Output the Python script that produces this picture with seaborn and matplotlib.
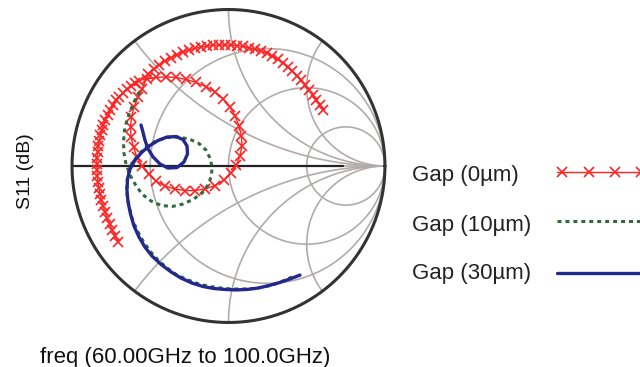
import numpy as np
import pandas as pd
import matplotlib
matplotlib.use("Agg")
import matplotlib.pyplot as plt
from matplotlib.lines import Line2D
import seaborn as sns

# ---- text ----
series_labels = ["Gap (0µm)", "Gap (10µm)", "Gap (30µm)"]
x_label = "freq (60.00GHz to 100.0GHz)"
y_label = "S11 (dB)"

# ---- Smith chart grid values ----
r_circles = [1/3, 1.0, 3.0]
x_arcs = [0.5, 1.0, 2.0, -0.5, -1.0, -2.0]

red_re = [-0.704, -0.725, -0.744, -0.760, -0.776, -0.789, -0.802, -0.812, -0.821, -0.828,
          -0.834, -0.838, -0.840, -0.842, -0.840, -0.837, -0.832, -0.826, -0.818, -0.808,
          -0.799, -0.786, -0.773, -0.757, -0.738, -0.719, -0.697, -0.674, -0.649, -0.623,
          -0.597, -0.572,
          -0.521, -0.463, -0.399, -0.335, -0.272, -0.208, -0.144, -0.086, -0.035, 0.010,
          0.042, 0.067, 0.083, 0.086, 0.073, 0.051, 0.016, -0.029, -0.086, -0.150,
          -0.214, -0.278, -0.342, -0.406, -0.463, -0.511, -0.553, -0.585, -0.607, -0.623,
          -0.626, -0.620, -0.604, -0.578, -0.550,
          -0.514, -0.479, -0.444, -0.406, -0.367, -0.329, -0.291, -0.252, -0.214, -0.176,
          -0.137, -0.099, -0.061, -0.022, 0.016, 0.054, 0.093, 0.131, 0.169, 0.208,
          0.246, 0.281, 0.316, 0.348, 0.380, 0.409, 0.438, 0.463, 0.489, 0.514,
          0.540, 0.562, 0.585, 0.607]
red_im = [-0.484, -0.447, -0.409, -0.371, -0.332, -0.294, -0.256, -0.217, -0.179, -0.141,
          -0.102, -0.064, -0.026, 0.013, 0.051, 0.089, 0.125, 0.160, 0.195, 0.230,
          0.262, 0.294, 0.326, 0.358, 0.390, 0.419, 0.444, 0.466, 0.489, 0.511,
          0.530, 0.546,
          0.556, 0.566, 0.569, 0.566, 0.553, 0.534, 0.508, 0.473, 0.428, 0.377,
          0.320, 0.256, 0.192, 0.128, 0.064, 0.006, -0.045, -0.089, -0.125, -0.147,
          -0.157, -0.157, -0.147, -0.128, -0.096, -0.051, 0.000, 0.058, 0.121, 0.185,
          0.249, 0.313, 0.377, 0.438, 0.492,
          0.588, 0.617, 0.645, 0.671, 0.693, 0.712, 0.728, 0.741, 0.752, 0.760,
          0.767, 0.771, 0.773, 0.773, 0.772, 0.769, 0.764, 0.756, 0.746, 0.735,
          0.720, 0.703, 0.681, 0.658, 0.633, 0.607, 0.578, 0.550, 0.518, 0.486,
          0.454, 0.422, 0.390, 0.358]

green_re = [0.406, 0.348, 0.291, 0.227, 0.163, 0.093, 0.022, -0.048, -0.118, -0.189,
            -0.259, -0.329, -0.393, -0.450, -0.502, -0.546, -0.585, -0.617, -0.636, -0.649,
            -0.649, -0.639, -0.617, -0.578, -0.527, -0.463, -0.393, -0.323, -0.252, -0.189,
            -0.144, -0.118, -0.105, -0.109, -0.131, -0.169, -0.227, -0.291, -0.361, -0.431,
            -0.495, -0.553, -0.594, -0.629, -0.655, -0.668, -0.671, -0.665, -0.649, -0.623,
            -0.591, -0.553]
green_im = [-0.709, -0.735, -0.757, -0.773, -0.783, -0.786, -0.786, -0.780, -0.770, -0.754,
            -0.728, -0.697, -0.652, -0.601, -0.543, -0.479, -0.409, -0.332, -0.256, -0.179,
            -0.102, -0.038, 0.019, 0.070, 0.121, 0.160, 0.182, 0.185, 0.173, 0.144,
            0.102, 0.051, -0.006, -0.064, -0.121, -0.173, -0.214, -0.243, -0.259, -0.252,
            -0.224, -0.179, -0.121, -0.058, 0.013, 0.083, 0.153, 0.224, 0.294, 0.364,
            0.435, 0.498]

blue_re = [0.457, 0.393, 0.329, 0.259, 0.189, 0.118, 0.048, -0.022, -0.093, -0.163,
           -0.233, -0.304, -0.367, -0.431, -0.489, -0.534, -0.572, -0.604, -0.626, -0.642,
           -0.649, -0.645, -0.629, -0.597, -0.553, -0.502, -0.450, -0.393, -0.335, -0.291,
           -0.265, -0.262, -0.284, -0.329, -0.387, -0.438, -0.482, -0.514, -0.534, -0.550,
           -0.559]
blue_im = [-0.697, -0.722, -0.744, -0.764, -0.780, -0.789, -0.792, -0.789, -0.783, -0.770,
           -0.748, -0.716, -0.677, -0.629, -0.575, -0.518, -0.454, -0.383, -0.307, -0.230,
           -0.153, -0.083, -0.019, 0.038, 0.089, 0.131, 0.163, 0.185, 0.188, 0.169,
           0.128, 0.077, 0.026, -0.010, -0.013, 0.013, 0.058, 0.109, 0.166, 0.230,
           0.262]

# ---- style ----
sns.set_theme(style="white")
plt.rcParams['font.family'] = ['Liberation Sans', 'DejaVu Sans']

RED, GREEN, BLUE = '#ff2222', '#2f6b3c', '#22288e'
GRID = '#b3abab'
W, H = 640.0, 367.0

fig = plt.figure(figsize=(6.4, 3.67), dpi=100)
ax = fig.add_axes([0.1003, 0.1000, 0.5134, 0.8954])

t = np.linspace(0, 2 * np.pi, 1441)
for r in r_circles:
    c, rad = r / (1 + r), 1 / (1 + r)
    ax.plot(c + rad * np.cos(t), rad * np.sin(t), color=GRID, lw=1.2, zorder=1)
for xv in x_arcs:
    rad = abs(1 / xv)
    px = 1 + rad * np.cos(t)
    py = 1 / xv + rad * np.sin(t)
    py = np.where(px ** 2 + py ** 2 > 1.0005, np.nan, py)
    ax.plot(px, py, color=GRID, lw=1.2, zorder=1)
ax.plot([-1, 1], [0, 0], color=GRID, lw=1.2, zorder=1)
ax.plot([-1, 0.73], [0, 0], color='#222222', lw=1.6, zorder=2)
ax.plot(np.cos(t), np.sin(t), color='#333333', lw=2.2, zorder=2)

df_red = pd.DataFrame({'re': red_re, 'im': red_im})
df_green = pd.DataFrame({'re': green_re, 'im': green_im})
df_blue = pd.DataFrame({'re': blue_re, 'im': blue_im})

red_style = dict(color=RED, lw=1.0, marker='x', markersize=7, markeredgewidth=1.2,
                 markeredgecolor=RED)
green_style = dict(color=GREEN, lw=2.2, linestyle=(0, (1.3, 1.3)))
blue_style = dict(color=BLUE, lw=2.4)

sns.lineplot(data=df_red, x='re', y='im', sort=False, estimator=None, ax=ax,
             legend=False, zorder=3, **red_style)
sns.lineplot(data=df_green, x='re', y='im', sort=False, estimator=None, ax=ax,
             legend=False, zorder=4, **green_style)
sns.lineplot(data=df_blue, x='re', y='im', sort=False, estimator=None, ax=ax,
             legend=False, zorder=5, **blue_style)
ax.set_xlim(-1.05, 1.05)
ax.set_ylim(-1.05, 1.05)
ax.axis('off')

# ---- legend (labels left-aligned, keys to the right, running off the edge) ----
label_y = [176, 226, 273]
key_y = [172, 221, 273]
styles = [red_style, green_style, blue_style]
for lab, ly, ky, st in zip(series_labels, label_y, key_y, styles):
    fig.text(412 / W, 1 - ly / H, lab, ha='left', va='center', fontsize=16,
             color='#222222')
    key = Line2D([557 / W, 662 / W], [1 - ky / H] * 2, transform=fig.transFigure, **st)
    if 'marker' in st:
        key.set_markevery([0.05, 0.317, 0.584, 0.851])
        key.set_data(np.linspace(557 / W, 662 / W, 21), [1 - ky / H] * 21)
        key.set_markevery([1, 6, 11, 16])
    fig.add_artist(key)

fig.text(40 / W, 1 - 357 / H, x_label, ha='left', va='center',
         fontsize=16, color='#111111')
fig.text(26 / W, 1 - 171 / H, y_label, ha='center', va='center',
         rotation=90, fontsize=14, color='#111111')

fig.savefig('out.png', dpi=100)
